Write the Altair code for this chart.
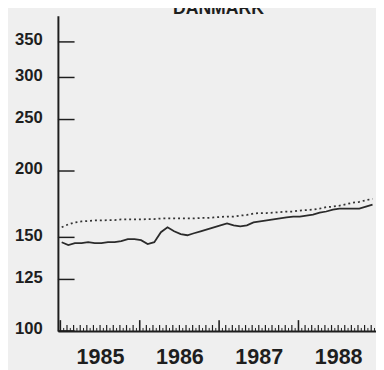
import altair as alt
import pandas as pd

TITLE = "DANMARK"
YEARS = [1985, 1986, 1987, 1988]
Y_TICKS = [100, 125, 150, 200, 250, 300, 350]

# monthly index values, Jan 1985 .. Dec 1988
SOLID = [146.9, 145.1, 146.3, 146.3, 146.9, 146.3, 146.3, 146.9, 146.9, 147.6, 148.8, 148.8,
         148.2, 145.7, 146.9, 153.4, 156.7, 154.0, 152.1, 151.4, 152.7, 154.0, 155.3, 156.7,
         158.0, 159.4, 158.0, 157.4, 158.0, 160.1, 160.7, 161.4, 162.1, 162.8, 163.5, 164.2,
         164.2, 164.9, 165.6, 167.0, 167.8, 169.2, 169.9, 169.9, 169.9, 169.9, 171.4, 172.9]
DOTTED = [156.7, 158.7, 160.1, 160.7, 161.0, 161.4, 161.4, 161.7, 161.7, 162.1, 162.1, 162.1,
          162.1, 162.4, 162.4, 162.8, 162.8, 162.8, 162.8, 162.8, 162.8, 163.2, 163.2, 163.5,
          163.9, 164.2, 164.2, 164.9, 165.3, 166.3, 166.7, 166.7, 167.0, 167.4, 167.8, 167.8,
          168.5, 168.8, 169.2, 169.9, 171.0, 171.4, 172.1, 173.2, 174.3, 175.0, 176.2, 177.3]

W, H = 325, 322
FONT = "Liberation Sans"
INK = "#1e1e1e"

t_vals = [YEARS[0] + (i + 0.2) / 12 for i in range(len(SOLID))]
solid_df = pd.DataFrame({"t": t_vals, "v": SOLID})
dotted_df = pd.DataFrame({"t": t_vals, "v": DOTTED})

year_df = pd.DataFrame({"t": YEARS})
month_df = pd.DataFrame({"t": [y + k / 12 for y in YEARS for k in range(1, 12)]})
half_df = pd.DataFrame({"t": [y + (k + 0.5) / 12 for y in YEARS for k in range(12)]})
ytick_df = pd.DataFrame({"v": Y_TICKS})
title_df = pd.DataFrame({"label": [TITLE]})

x_scale = alt.Scale(domain=[1984.969, 1988.977], nice=False, zero=False)
y_scale = alt.Scale(type="log", domain=[100, 392], nice=False)

x_axis = alt.Axis(values=[y + 0.5 for y in YEARS], labelExpr="'' + floor(datum.value)",
                  tickSize=0, grid=False, domainColor=INK, domainWidth=2,
                  labelFont=FONT, labelFontSize=22, labelFontWeight="bold",
                  labelColor=INK, labelPadding=16, title=None)
y_axis = alt.Axis(values=Y_TICKS, tickSize=0, grid=False, domainColor=INK, domainWidth=2,
                  labelFont=FONT, labelFontSize=17, labelFontWeight="bold",
                  labelColor=INK, labelPadding=16, labelBaseline="middle",
                  labelOffset=-2, title=None)

x_enc = alt.X("t:Q", scale=x_scale, axis=x_axis)
y_enc = alt.Y("v:Q", scale=y_scale, axis=y_axis)

solid = alt.Chart(solid_df).mark_line(color="#2b2b2b", strokeWidth=1.8).encode(x=x_enc, y=y_enc)
dotted = alt.Chart(dotted_df).mark_line(color="#333333", strokeWidth=1.8,
                                        strokeDash=[2, 3]).encode(x=x_enc, y=y_enc)

year_ticks = alt.Chart(year_df).mark_rule(color=INK, strokeWidth=1.6).encode(
    x=x_enc, y=alt.value(H), y2=alt.value(H - 11))
month_ticks = alt.Chart(month_df).mark_rule(color=INK, strokeWidth=1.2).encode(
    x=x_enc, y=alt.value(H), y2=alt.value(H - 6))
half_ticks = alt.Chart(half_df).mark_rule(color=INK, strokeWidth=1.0).encode(
    x=x_enc, y=alt.value(H), y2=alt.value(H - 3))
y_ticks = alt.Chart(ytick_df).mark_rule(color=INK, strokeWidth=1.5).encode(
    y=y_enc, x=alt.value(0), x2=alt.value(17))

title = alt.Chart(title_df).mark_text(font=FONT, fontSize=18, fontWeight="bold",
                                      color=INK, align="center",
                                      baseline="alphabetic").encode(
    text="label:N", x=alt.value(164), y=alt.value(-2))

chart = alt.layer(year_ticks, month_ticks, half_ticks, y_ticks, dotted, solid, title).properties(
    width=W, height=H,
    autosize=alt.AutoSizeParams(type="none"),
    padding={"left": 51, "top": 4, "right": 0, "bottom": 36},
    background="#efefef",
).configure_view(stroke=None)

chart.save("out.html", embed_options={"renderer": "svg", "actions": False})
